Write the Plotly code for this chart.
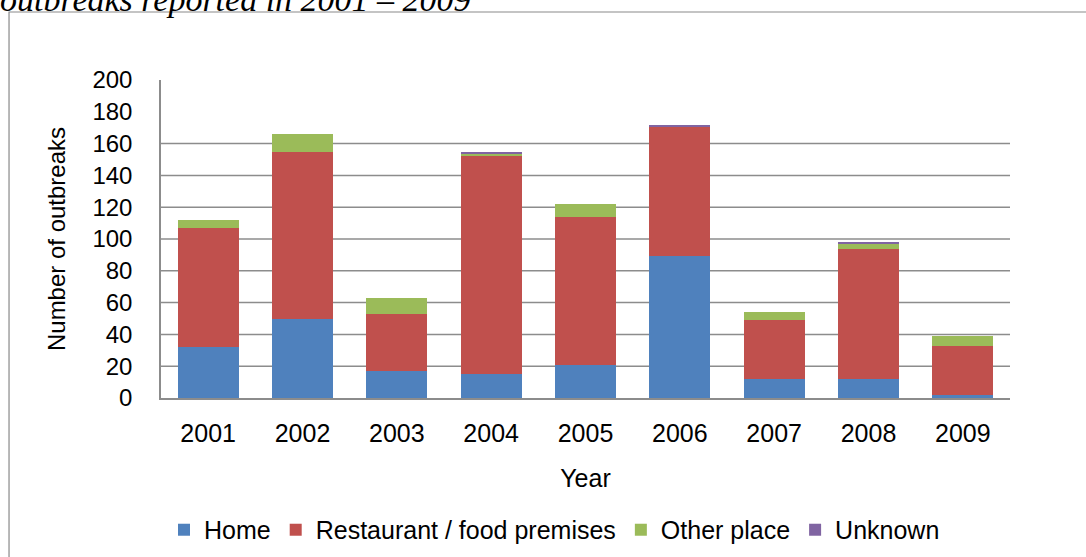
import plotly.graph_objects as go

years = ["2001", "2002", "2003", "2004", "2005", "2006", "2007", "2008", "2009"]
home = [32, 50, 17, 15, 21, 89, 12, 12, 2]
restaurant = [75, 105, 36, 137, 93, 82, 37, 82, 31]
other_place = [5, 11, 10, 2, 8, 0, 5, 3, 6]
unknown = [0, 0, 0, 1, 0, 1, 0, 1, 0]

series_names = ["Home", "Restaurant / food premises", "Other place", "Unknown"]
series_values = [home, restaurant, other_place, unknown]
colors = ["#4F81BD", "#C0504D", "#9BBB59", "#8064A2"]

y_ticks = [0, 20, 40, 60, 80, 100, 120, 140, 160, 180, 200]
grid_values = [20, 40, 60, 80, 100, 120, 140, 160]

fig = go.Figure()
for name, vals, col in zip(series_names, series_values, colors):
    fig.add_trace(go.Bar(x=years, y=vals, name=name, marker=dict(color=col, line=dict(width=0))))

shapes = []
for g in grid_values:
    shapes.append(dict(type="line", xref="paper", yref="y", x0=0, x1=1, y0=g, y1=g,
                       line=dict(color="#8C8C8C", width=1.5), layer="below"))
# outer frame
shapes.append(dict(type="rect", xref="paper", yref="paper", x0=-0.179, x1=1.3, y0=-0.7, y1=1.2138,
                   line=dict(color="#8A8A8A", width=1.2), fillcolor="rgba(0,0,0,0)", layer="below"))

fig.update_layout(
    barmode="stack",
    bargap=0.35,
    width=1086, height=557,
    margin=dict(l=161, r=76, t=80, b=159, autoexpand=False),
    paper_bgcolor="white", plot_bgcolor="white",
    font=dict(family="Liberation Sans, Arial, sans-serif", color="black"),
    shapes=shapes,
    showlegend=True,
    legend=dict(orientation="h", x=0.4635, xanchor="center", y=0.0485, yref="container",
                yanchor="middle", font=dict(size=25), traceorder="normal", itemwidth=30,
                tracegroupgap=0),
    xaxis=dict(showgrid=False, showline=True, linecolor="#8C8C8C", linewidth=1.5,
               ticks="", tickfont=dict(size=25), ticklabelstandoff=12,
               title=dict(text="Year", font=dict(size=25), standoff=24)),
    yaxis=dict(range=[0, 200], tickvals=y_ticks, showgrid=False, zeroline=False,
               showline=True, linecolor="#8C8C8C", linewidth=1.5, ticks="",
               tickfont=dict(size=24), ticklabelstandoff=22,
               title=dict(text="Number of outbreaks", font=dict(size=24), standoff=20)),
    annotations=[dict(text="<i>outbreaks reported in 2001 – 2009</i>", xref="paper", yref="paper",
                      x=-0.192, y=1.190, xanchor="left", yanchor="bottom", showarrow=False,
                      font=dict(family="Liberation Serif, Times New Roman, serif", size=34, color="black"))],
)

fig.write_html("out.html")
